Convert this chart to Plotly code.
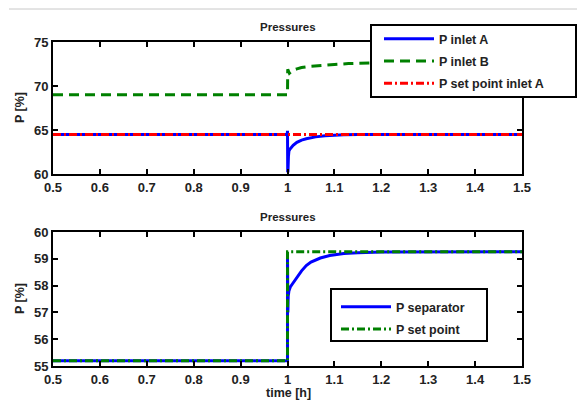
import plotly.graph_objects as go

# ---- data ----
t_a = [0.5, 0.9995, 1.0, 1.0005, 1.001, 1.002, 1.003, 1.005, 1.008, 1.012, 1.02, 1.03, 1.04,
       1.05, 1.06, 1.08, 1.1, 1.12, 1.15, 1.2, 1.5]
p_inlet_a = [64.5, 64.5, 64.9, 60.2, 60.3, 62.0, 62.6, 62.8, 63.0, 63.25, 63.6, 63.85, 64.0,
             64.12, 64.22, 64.35, 64.43, 64.47, 64.5, 64.5, 64.5]

t_b = [0.5, 1.0, 1.0005, 1.002, 1.004, 1.007, 1.012, 1.02, 1.03, 1.05, 1.07, 1.1, 1.13,
       1.17, 1.2, 1.25, 1.3, 1.4, 1.5]
p_inlet_b = [69.0, 69.0, 71.9, 71.6, 71.45, 71.6, 71.8, 71.95, 72.1, 72.25, 72.35, 72.45, 72.55,
             72.62, 72.66, 72.7, 72.72, 72.74, 72.75]

t_sp_a = [0.5, 1.5]
p_sp_a = [64.5, 64.5]

t_sep = [0.5, 1.0, 1.0, 1.0008, 1.0015, 1.003, 1.006, 1.01, 1.02, 1.03, 1.04, 1.05, 1.07,
         1.09, 1.12, 1.15, 1.2, 1.3, 1.5]
p_sep = [55.2, 55.2, 59.1, 57.0, 57.6, 57.8, 57.95, 58.05, 58.3, 58.55, 58.75, 58.88, 59.03,
         59.12, 59.2, 59.23, 59.25, 59.26, 59.26]

t_sp = [0.5, 1.0, 1.0, 1.5]
p_sp = [55.2, 55.2, 59.26, 59.26]

x_ticks = [0.5, 0.6, 0.7, 0.8, 0.9, 1.0, 1.1, 1.2, 1.3, 1.4, 1.5]
x_ticktext = ["0.5", "0.6", "0.7", "0.8", "0.9", "1", "1.1", "1.2", "1.3", "1.4", "1.5"]
y1_ticks = [60, 65, 70, 75]
y2_ticks = [55, 56, 57, 58, 59, 60]

W, H = 577, 400
BLUE = "#0000ff"
GREEN = "#008000"
RED = "#ff0000"
DASHDOT = "8px,3px,2px,3px"

fig = go.Figure()
fig.add_trace(go.Scatter(x=t_a, y=p_inlet_a, mode="lines", name="P inlet A",
                         line=dict(color=BLUE, width=3), xaxis="x", yaxis="y",
                         legend="legend", legendgroup="a"))
fig.add_trace(go.Scatter(x=t_b, y=p_inlet_b, mode="lines", name="P inlet B",
                         line=dict(color=GREEN, width=3, dash="10px,6px"), xaxis="x", yaxis="y",
                         legend="legend", legendgroup="b"))
fig.add_trace(go.Scatter(x=t_sp_a, y=p_sp_a, mode="lines", name="P set point inlet A",
                         line=dict(color=RED, width=3, dash=DASHDOT), xaxis="x", yaxis="y",
                         legend="legend", legendgroup="c"))
fig.add_trace(go.Scatter(x=t_sep, y=p_sep, mode="lines", name="P separator",
                         line=dict(color=BLUE, width=3), xaxis="x2", yaxis="y2",
                         legend="legend2", legendgroup="d"))
fig.add_trace(go.Scatter(x=t_sp, y=p_sp, mode="lines", name="P set point",
                         line=dict(color=GREEN, width=3, dash=DASHDOT), xaxis="x2", yaxis="y2",
                         legend="legend2", legendgroup="e"))

def px_x(p):
    return p / W

def px_y(p):
    return 1 - p / H

xdom = [px_x(53), px_x(522)]
common_axis = dict(showline=True, linecolor="black", linewidth=2, mirror="ticks",
                   ticks="inside", ticklen=5, tickwidth=2, tickcolor="black",
                   showgrid=False, zeroline=False, automargin=False,
                   tickfont=dict(size=13, color="#222", family="Liberation Sans", weight="bold"))

def label(text, x, y, size, angle=0):
    return dict(text=text, x=px_x(x), y=px_y(y), xref="paper", yref="paper",
                xanchor="center", yanchor="middle", showarrow=False, textangle=angle,
                font=dict(size=size, color="#222"))

fig.update_layout(
    width=W, height=H,
    margin=dict(l=0, r=0, t=0, b=0, pad=0, autoexpand=False),
    paper_bgcolor="white", plot_bgcolor="white",
    font=dict(family="Liberation Sans", size=12.5, color="black", weight="bold"),
    xaxis=dict(domain=xdom, anchor="y", range=[0.5, 1.5], tickvals=x_ticks,
               ticktext=x_ticktext, **common_axis),
    yaxis=dict(domain=[px_y(174), px_y(42)], anchor="x", range=[60, 75],
               tickvals=y1_ticks, **common_axis),
    xaxis2=dict(domain=xdom, anchor="y2", range=[0.5, 1.5], tickvals=x_ticks,
                ticktext=x_ticktext, **common_axis),
    yaxis2=dict(domain=[px_y(366), px_y(232)], anchor="x2", range=[55, 60],
                tickvals=y2_ticks, **common_axis),
    legend=dict(x=px_x(379), y=px_y(24), xanchor="left", yanchor="top",
                bgcolor="rgba(0,0,0,0)", borderwidth=0, itemwidth=50,
                tracegroupgap=3, font=dict(size=12.5, color="#222")),
    legend2=dict(x=px_x(336), y=px_y(292), xanchor="left", yanchor="top",
                 bgcolor="rgba(0,0,0,0)", borderwidth=0, itemwidth=50,
                 tracegroupgap=3, font=dict(size=12.5, color="#222")),
    shapes=[
        dict(type="line", xref="paper", yref="paper", x0=px_x(9), x1=1, y0=px_y(9), y1=px_y(9),
             line=dict(color="#c8c8c8", width=1)),
        dict(type="rect", xref="paper", yref="paper", x0=px_x(371), x1=px_x(576),
             y0=px_y(97), y1=px_y(25), fillcolor="white", line=dict(color="black", width=2),
             layer="above"),
        dict(type="rect", xref="paper", yref="paper", x0=px_x(331), x1=px_x(487),
             y0=px_y(341), y1=px_y(289), fillcolor="white", line=dict(color="black", width=2),
             layer="above"),
    ],
    annotations=[
        label("Pressures", 287.5, 27, 11.5),
        label("Pressures", 287.5, 217, 11.5),
        label("P [%]", 20, 108, 12.5, -90),
        label("P [%]", 20, 299, 12.5, -90),
        label("time [h]", 288, 393, 12.5),
    ],
)

fig.write_html("out.html", config={"displayModeBar": False},
               post_script="document.body.style.margin='0';document.body.style.padding='0';")
